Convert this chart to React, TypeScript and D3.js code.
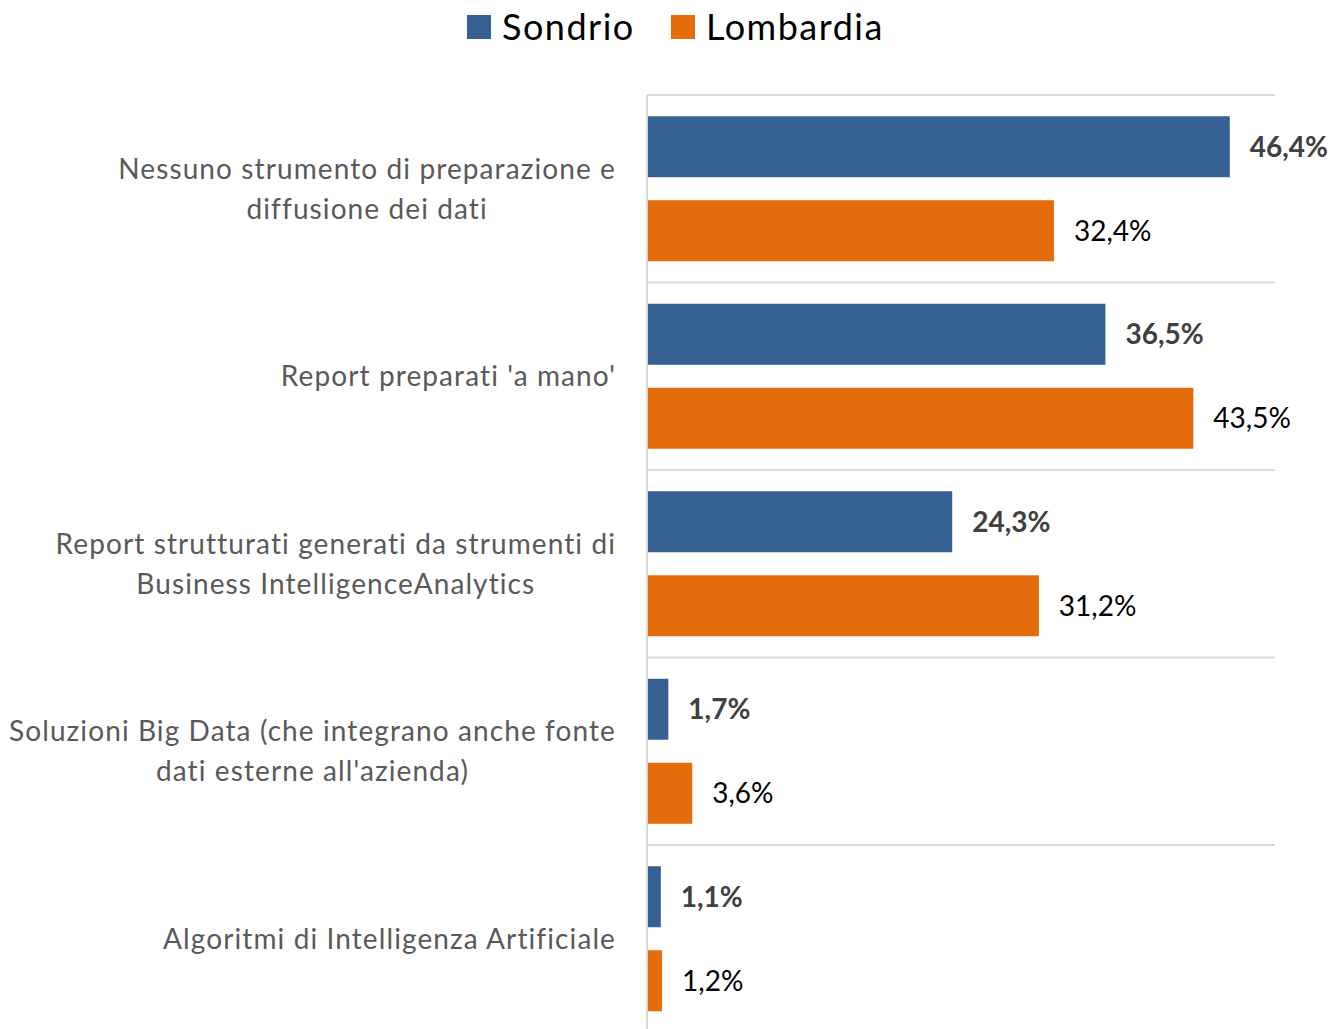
import React, { useLayoutEffect, useRef } from "react";
import * as d3 from "d3";

const categories: string[][] = [
  ["Nessuno strumento di preparazione e", "diffusione dei dati"],
  ["Report preparati 'a mano'"],
  ["Report strutturati generati da strumenti di", "Business IntelligenceAnalytics"],
  ["Soluzioni Big Data (che integrano anche fonte", "dati esterne all'azienda)"],
  ["Algoritmi di Intelligenza Artificiale"],
];
const seriesNames = ["Sondrio", "Lombardia"];
const sondrio = [46.4, 36.5, 24.3, 1.7, 1.1];
const lombardia = [32.4, 43.5, 31.2, 3.6, 1.2];
const seriesColors = ["#366092", "#E46C0A"];

const W = 1334;
const H = 1029;
const FONT = "Lato, 'Open Sans', sans-serif";
const LABEL_RIGHT = 616;

export default function App() {
  const svgRef = useRef<SVGSVGElement>(null);
  const x = d3.scaleLinear().domain([0, 50]).range([647, 1275]);
  const y0 = d3
    .scaleBand<number>()
    .domain(d3.range(categories.length))
    .range([95, 1032.5])
    .padding(0);
  const y1 = d3
    .scaleBand<string>()
    .domain(seriesNames)
    .range([0, y0.bandwidth()])
    .paddingInner(0.274)
    .paddingOuter(0.253);
  const fmt = (v: number) => v.toFixed(1).replace(".", ",") + "%";
  const data = [sondrio, lombardia];
  const lineH = 40;

  useLayoutEffect(() => {
    if (!svgRef.current) return;
    d3.select(svgRef.current)
      .selectAll<SVGGElement, unknown>("g.cat")
      .each(function () {
        const bb = this.getBBox();
        const cy = +(this.getAttribute("data-cy") || 0);
        this.setAttribute("transform", `translate(${LABEL_RIGHT - bb.width / 2},${cy})`);
      });
  }, []);

  return (
    <svg
      ref={svgRef}
      width={W}
      height={H}
      style={{ position: "absolute", left: 0, top: 0, display: "block", background: "#fff" }}
      fontFamily={FONT}
    >
      {/* gridlines */}
      {d3.range(categories.length).map((i) => (
        <line
          key={"g" + i}
          x1={x(0)}
          x2={x(50)}
          y1={y0(i)!}
          y2={y0(i)!}
          stroke="#d9d9d9"
          strokeWidth={2}
        />
      ))}
      {/* bars */}
      {d3.range(categories.length).map((i) =>
        seriesNames.map((s, si) => {
          const v = data[si][i];
          const yy = y0(i)! + y1(s)!;
          return (
            <g key={s + i}>
              <rect
                x={x(0)}
                y={yy}
                width={x(v) - x(0)}
                height={y1.bandwidth()}
                fill={seriesColors[si]}
              />
              <text
                x={x(v) + 20}
                y={yy + y1.bandwidth() / 2}
                dy="0.35em"
                fontSize={28}
                fontWeight={si === 0 ? 700 : 400}
                fill={si === 0 ? "#404040" : "#000"}
              >
                {fmt(v)}
              </text>
            </g>
          );
        })
      )}
      {/* axis line */}
      <line x1={x(0)} x2={x(0)} y1={95} y2={H} stroke="#d9d9d9" strokeWidth={2} />
      {/* category labels */}
      {categories.map((lines, i) => {
        const cy = y0(i)! + y0.bandwidth() / 2;
        const start = -((lines.length - 1) * lineH) / 2;
        return (
          <g key={"c" + i} className="cat" data-cy={cy} transform={`translate(366,${cy})`}>
            {lines.map((t, li) => (
              <text
                key={li}
                x={0}
                y={start + li * lineH}
                dy="0.35em"
                textAnchor="middle"
                fontSize={28}
                letterSpacing={1.1}
                fill="#595959"
              >
                {t}
              </text>
            ))}
          </g>
        );
      })}
      {/* legend */}
      {seriesNames.map((s, si) => {
        const lx = [467, 671][si];
        return (
          <g key={"l" + s}>
            <rect x={lx} y={15} width={24} height={24} fill={seriesColors[si]} />
            <text
              x={lx + 35}
              y={27}
              dy="0.35em"
              fontSize={36}
              letterSpacing={1.5}
              fill="#000"
            >
              {s}
            </text>
          </g>
        );
      })}
    </svg>
  );
}
